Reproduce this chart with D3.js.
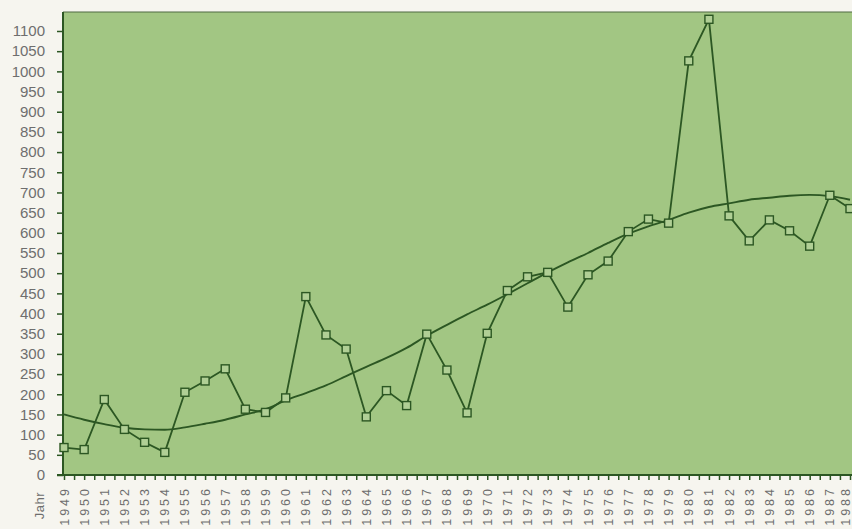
<!DOCTYPE html>
<html>
<head>
<meta charset="utf-8">
<script src="https://cdn.jsdelivr.net/npm/d3@7"></script>
<style>
  html, body { margin: 0; padding: 0; background: #f6f5ef; }
  svg { display: block; }
</style>
</head>
<body>
<svg id="chart" width="852" height="529"></svg>
<script>
// Jahre 1949..1988
const years = [1949,1950,1951,1952,1953,1954,1955,1956,1957,1958,1959,1960,
  1961,1962,1963,1964,1965,1966,1967,1968,1969,1970,1971,1972,1973,1974,
  1975,1976,1977,1978,1979,1980,1981,1982,1983,1984,1985,1986,1987,1988];

// measured values (squares)
const values = [68,63,187,113,81,56,205,233,263,163,155,191,
  442,347,312,144,209,172,349,260,154,351,457,491,502,416,
  496,530,603,634,624,1026,1129,642,580,632,605,567,693,660];

// smooth trend line, read per year
const trend = [150,137,126,117,113,112,118,127,137,150,163,185,
  203,222,245,268,290,315,345,372,398,422,448,475,502,527,
  550,575,598,616,632,650,664,673,682,687,692,694,691,682];

const yTicks = [0,50,100,150,200,250,300,350,400,450,500,550,
  600,650,700,750,800,850,900,950,1000,1050,1100];

const svg = d3.select('#chart');
const W = 852, H = 529;
const plotLeft = 63, plotTop = 12, plotBottom = 475;

const x = d3.scaleLinear().domain([1949, 1988]).range([64, 850]);
const y = d3.scaleLinear().domain([0, 1100]).range([475, 31]);

const GREEN_BG = '#a2c683';
const INK = '#2c5723';
const TXT = '#6e6e6e';
const FONT = 'Liberation Sans, Arial, sans-serif';

// plot area
svg.append('rect')
  .attr('x', plotLeft).attr('y', plotTop)
  .attr('width', W - plotLeft + 10).attr('height', plotBottom - plotTop)
  .attr('fill', GREEN_BG);

// top border
svg.append('line')
  .attr('x1', plotLeft).attr('x2', W)
  .attr('y1', plotTop).attr('y2', plotTop)
  .attr('stroke', '#4e6b43').attr('stroke-width', 1.2);

// y axis
const yAxis = d3.axisLeft(y).tickValues(yTicks).tickSize(6).tickPadding(12)
  .tickFormat(d3.format('d'));
const gy = svg.append('g').attr('transform', `translate(${plotLeft},0)`).call(yAxis);
gy.select('.domain').remove();
gy.selectAll('.tick line').attr('stroke', INK).attr('stroke-width', 1.5);
gy.selectAll('.tick text')
  .attr('fill', TXT).attr('font-size', 15)
  .attr('font-family', FONT);
svg.append('line')
  .attr('x1', plotLeft).attr('x2', plotLeft)
  .attr('y1', plotTop).attr('y2', plotBottom)
  .attr('stroke', INK).attr('stroke-width', 2);

// x axis: year ticks + half-year minor ticks
const halfTicks = years.flatMap(v => [v, v + 0.5]);
const gxMinor = svg.append('g').attr('transform', `translate(0,${plotBottom})`)
  .call(d3.axisBottom(x).tickValues(halfTicks).tickSize(5).tickFormat(''));
gxMinor.select('.domain').remove();
gxMinor.selectAll('.tick line').attr('stroke', INK).attr('stroke-width', 1.5);

svg.append('line')
  .attr('x1', plotLeft - 6).attr('x2', W)
  .attr('y1', plotBottom).attr('y2', plotBottom)
  .attr('stroke', INK).attr('stroke-width', 2);

// year labels (last one pulled in so it stays inside the window)
const gx = svg.append('g');
gx.selectAll('text.yr').data(years).join('text')
  .attr('class', 'yr')
  .attr('transform', d => `translate(${Math.min(x(d) + 4.5, W - 2)},${plotBottom + 11}) rotate(-90)`)
  .attr('text-anchor', 'end')
  .attr('fill', TXT).attr('font-size', 12.5)
  .attr('letter-spacing', '3px')
  .attr('font-family', FONT)
  .text(d => d);

svg.append('text')
  .attr('transform', `translate(${44},${plotBottom + 17}) rotate(-90)`)
  .attr('text-anchor', 'end')
  .attr('fill', TXT).attr('font-size', 13)
  .attr('letter-spacing', '0.5px')
  .attr('font-family', FONT)
  .text('Jahr');

// trend line
const trendLine = d3.line().x((d, i) => x(years[i])).y(d => y(d)).curve(d3.curveMonotoneX);
svg.append('path')
  .datum(trend)
  .attr('d', trendLine)
  .attr('fill', 'none').attr('stroke', INK).attr('stroke-width', 1.9);

// data line
const dataLine = d3.line().x((d, i) => x(years[i])).y(d => y(d));
svg.append('path')
  .datum(values)
  .attr('d', dataLine)
  .attr('fill', 'none').attr('stroke', INK).attr('stroke-width', 1.8);

// square markers
const S = 8;
svg.append('g').selectAll('rect').data(values).join('rect')
  .attr('x', (d, i) => x(years[i]) - S / 2)
  .attr('y', d => y(d) - S / 2)
  .attr('width', S).attr('height', S)
  .attr('fill', '#b0cf95')
  .attr('stroke', INK).attr('stroke-width', 1.4);
</script>
</body>
</html>
